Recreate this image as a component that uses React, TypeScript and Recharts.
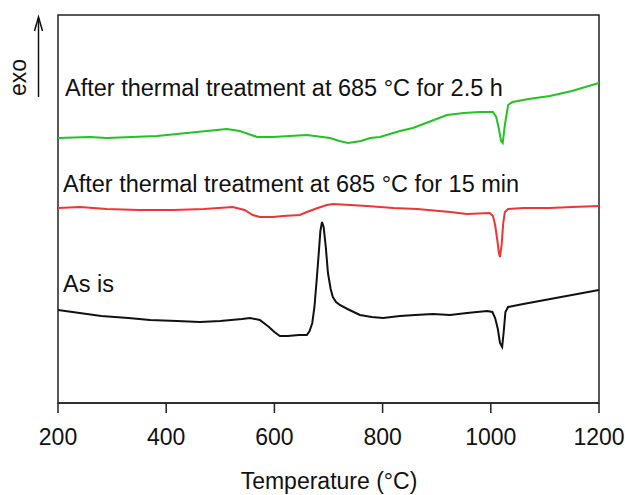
import React from "react";
import { LineChart, Line, XAxis, YAxis, ReferenceArea } from "recharts";

// Temperature (°C) and signal (arbitrary units, exo up)
const asIsT = [200, 240, 280, 330, 370, 420, 462, 500, 540, 555, 573, 590, 600, 610, 625, 645, 660, 665, 670, 674, 678, 682, 685, 688, 691, 695, 699, 704, 708, 714, 721, 735, 758, 780, 801, 832, 860, 893, 925, 956, 993, 1003, 1008, 1013, 1017, 1021, 1024, 1027, 1032, 1060, 1100, 1150, 1200];
const asIsV = [93, 90, 87, 85, 83, 82, 81, 82, 84, 85, 83, 76, 71, 67, 67, 68, 68, 72, 80, 96, 122, 150, 172, 181, 176, 156, 130, 114, 106, 101, 98, 94, 88, 86, 85, 87, 88, 89, 88, 90, 92, 91, 85, 74, 60, 56, 72, 91, 96, 99, 103, 108, 113];

const t15T = [200, 241, 290, 350, 413, 470, 523, 545, 560, 573, 597, 616, 647, 660, 680, 697, 708, 740, 771, 820, 864, 925, 956, 998, 1004, 1008, 1012, 1015, 1017, 1020, 1023, 1026, 1032, 1060, 1109, 1150, 1200];
const t15V = [195, 196, 194, 193, 193, 194, 196, 193, 188, 186, 186, 187, 188, 191, 195, 198, 199, 198, 197, 195, 194, 191, 189, 190, 187, 178, 163, 150, 146, 158, 180, 191, 194, 195, 195, 196, 197];

const t25T = [200, 259, 290, 383, 475, 512, 536, 568, 597, 660, 703, 720, 736, 760, 777, 795, 832, 856, 890, 919, 950, 980, 1004, 1010, 1015, 1019, 1022, 1026, 1032, 1040, 1070, 1109, 1150, 1200];
const t25V = [265, 266, 265, 267, 272, 274, 272, 266, 266, 268, 265, 262, 260, 262, 265, 266, 272, 275, 282, 288, 290, 291, 291, 286, 274, 262, 260, 278, 298, 301, 304, 307, 312, 320];

const xTicks = [200, 400, 600, 800, 1000, 1200];

const toRows = (t: number[], v: number[]) => t.map((x, i) => ({ t: x, v: v[i] }));

const FONT = '"Liberation Sans", Arial, sans-serif';

export default function App() {
  return (
    <div style={{ position: "absolute", left: 0, top: 0, width: 625, height: 495, background: "#fff" }}>
      <LineChart width={625} height={495} margin={{ top: 15, right: 26, left: 58, bottom: 32 }}>
        <XAxis
          dataKey="t"
          type="number"
          domain={[200, 1200]}
          ticks={xTicks}
          allowDataOverflow
          height={60}
          tickSize={10}
          tickMargin={16}
          stroke="#222"
          strokeWidth={1.5}
          tick={{ fill: "#111", fontSize: 23, fontFamily: FONT }}
        />
        <YAxis type="number" domain={[0, 388]} hide width={0} allowDataOverflow />
        <ReferenceArea x1={200} x2={1200} y1={0} y2={388} fill="none" stroke="#222" strokeWidth={1.5} fillOpacity={0} />
        <Line data={toRows(t25T, t25V)} dataKey="v" type="linear" stroke="#22c322" strokeWidth={2} dot={false} isAnimationActive={false} />
        <Line data={toRows(t15T, t15V)} dataKey="v" type="linear" stroke="#ee3535" strokeWidth={2} dot={false} isAnimationActive={false} />
        <Line data={toRows(asIsT, asIsV)} dataKey="v" type="linear" stroke="#111" strokeWidth={2} dot={false} isAnimationActive={false} />
      </LineChart>
      <svg width={625} height={495} style={{ position: "absolute", left: 0, top: 0, pointerEvents: "none" }}>
        <g fontFamily={FONT} fill="#111">
          <text x={0} y={0} fontSize={23} textAnchor="middle" transform="translate(26,77.5) rotate(-90)">exo</text>
          <text x={65} y={96} fontSize={23.5}>After thermal treatment at 685 °C for 2.5 h</text>
          <text x={63} y={192} fontSize={23.5}>After thermal treatment at 685 °C for 15 min</text>
          <text x={63} y={292} fontSize={23.5}>As is</text>
          <text x={329} y={489} fontSize={23} textAnchor="middle">Temperature (°C)</text>
        </g>
        <line x1={38.5} y1={97} x2={38.5} y2={18} stroke="#111" strokeWidth={1.5} />
        <polyline points="34.5,31 38.5,17 42.5,31" fill="none" stroke="#111" strokeWidth={1.5} />
      </svg>
    </div>
  );
}
